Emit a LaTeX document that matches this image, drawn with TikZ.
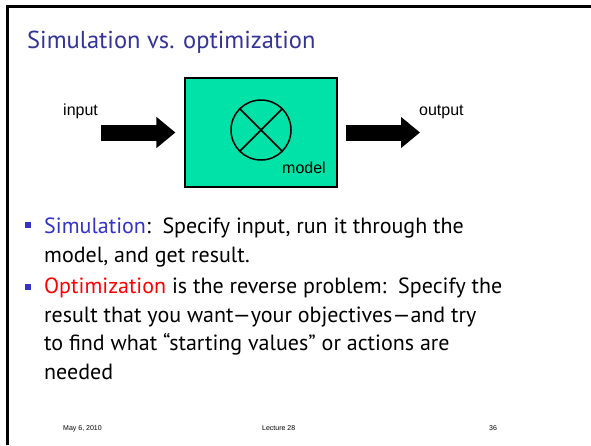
\documentclass[tikz,border=0pt]{standalone}
\usepackage{fontspec}
\setmainfont{PT Sans}
\newfontfamily\arialfont{Liberation Sans}
\usetikzlibrary{positioning, arrows.meta}
\definecolor{titleblue}{RGB}{51,51,153}
\definecolor{simblue}{RGB}{51,51,204}
\definecolor{modelgreen}{RGB}{0,226,168}
\tikzset{
  slideframe/.style={line width=3pt, draw=black},
  modelbox/.style={rectangle, draw=black, fill=modelgreen, line width=1.2pt, minimum width=152pt, minimum height=109pt},
  mixer/.style={circle, draw=black, line width=1.5pt, minimum size=60pt, inner sep=0pt},
  fatarrow/.style={line width=16pt, -{Triangle[length=19pt, width=30pt]}},
  lbl/.style={font=\arialfont\fontsize{16}{18}\selectfont, anchor=base west, inner sep=0pt},
  bodytext/.style={font=\fontsize{22}{28.5}\selectfont, anchor=base west, inner sep=0pt, align=left},
  sqbullet/.style={rectangle, fill=simblue, minimum size=6pt, inner sep=0pt},
  footer/.style={font=\arialfont\fontsize{7}{8}\selectfont, anchor=base west, inner sep=0pt},
}
\begin{document}
\begin{tikzpicture}[x=1pt, y=-1pt]
  \useasboundingbox[fill=white] (0,0) rectangle (591,445);
  % slide border (top and left only)
  \draw[slideframe] (7.5,445) -- (7.5,6) -- (591,6);

  \node[anchor=base west, inner sep=0pt, text=titleblue, font=\fontsize{24.5}{28}\selectfont] (title) at (27,48) {Simulation vs. optimization};

  % the model block
  \node[modelbox] (model) at (261,132.5) {};
  \node[mixer] (circ) at (261,130) {};
  \draw[line width=1.5pt] (circ.north west) -- (circ.south east);
  \draw[line width=1.5pt] (circ.north east) -- (circ.south west);
  \node[lbl] (modellbl) at (282,173) {model};

  \node[lbl] (inlbl) at (63,115) {input};
  \node[lbl] (outlbl) at (419,115) {output};
  \coordinate (inarr) at (101,132.5);
  \coordinate (outarr) at (420,132.5);
  \draw[fatarrow, shorten >=9pt] (inarr) -- (model.west);
  \draw[fatarrow, shorten <=8pt] (model.east) -- (outarr);

  % bullets (text nodes are placed by their last line)
  \node[sqbullet] (b1) at (28,225) {};
  \node[bodytext] (item1) at (44,262) {\textcolor{simblue}{Simulation}:\ \ Specify input, run it through the\\model, and get result.};
  \node[sqbullet] (b2) at (28,287) {};
  \node[bodytext] (item2) at (44,379) {\textcolor{red}{Optimization} is the reverse problem:\ \ Specify the\\result that you want---your objectives---and try\\to find what ``starting values'' or actions are\\needed};

  % footer
  \node[footer] (date) at (63,430) {May 6, 2010};
  \node[footer] (lecture) at (262,430) {Lecture 28};
  \node[footer] (page) at (489,430) {36};
\end{tikzpicture}
\end{document}
